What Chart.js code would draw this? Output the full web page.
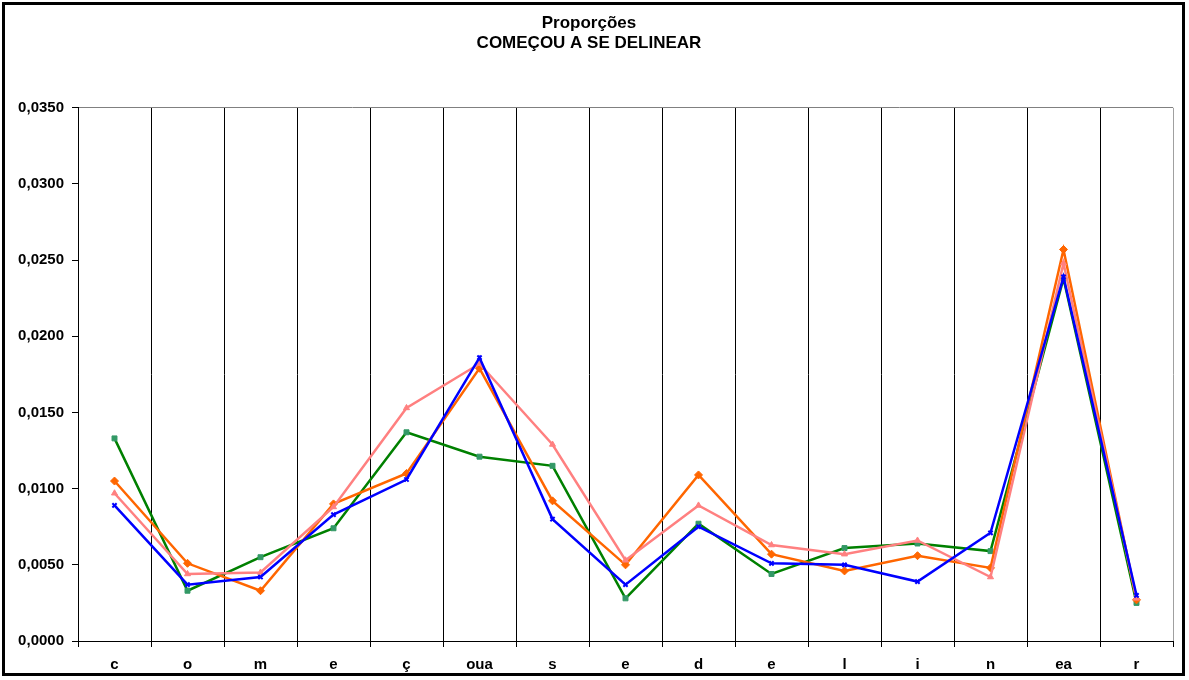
<!DOCTYPE html>
<html>
<head>
<meta charset="utf-8">
<script src="https://cdn.jsdelivr.net/npm/chart.js@4.4.1/dist/chart.umd.min.js"></script>
<style>
  html, body { margin: 0; padding: 0; background: #fff; }
  #frame {
    position: absolute; left: 2px; top: 2px;
    width: 1183px; height: 674px;
    border: 3px solid #000; box-sizing: border-box;
    background: #fff;
  }
  #frame canvas { display: block; }
</style>
</head>
<body>
<div id="frame"><canvas id="chart" width="1177" height="668"></canvas></div>
<script>
const categorias = ['c', 'o', 'm', 'e', 'ç', 'oua', 's', 'e', 'd', 'e', 'l', 'i', 'n', 'ea', 'r']

// proporções por série
const serieVerde   = [0.0133, 0.0033, 0.0055, 0.0074, 0.0137, 0.0121, 0.0115, 0.0028, 0.0077, 0.0044, 0.0061, 0.0064, 0.0059, 0.0238, 0.0025]
const serieLaranja = [0.0105, 0.0051, 0.0033, 0.0090, 0.0110, 0.0179, 0.0092, 0.0050, 0.0109, 0.0057, 0.0046, 0.0056, 0.0048, 0.0257, 0.0027]
const serieRosa    = [0.0097, 0.0044, 0.0045, 0.0088, 0.0153, 0.0182, 0.0129, 0.0053, 0.0089, 0.0063, 0.0057, 0.0066, 0.0042, 0.0248, 0.0028]
const serieAzul    = [0.0089, 0.0037, 0.0042, 0.0083, 0.0106, 0.0186, 0.0080, 0.0037, 0.0075, 0.0051, 0.0050, 0.0039, 0.0071, 0.0239, 0.0030]

const Y_MIN = 0, Y_MAX = 0.035, Y_STEP = 0.005

const FONTE = "'Liberation Sans', Arial, sans-serif"

function serie(data, cor, corMarcador, estilo, raio, ordem) {
  return {
    data,
    borderColor: cor,
    backgroundColor: corMarcador,
    pointBorderColor: corMarcador,
    pointBackgroundColor: corMarcador,
    pointStyle: estilo,
    pointRadius: raio,
    pointBorderWidth: estilo === 'crossRot' ? 2 : 1,
    borderWidth: 2.5,
    tension: 0,
    order: ordem,
  }
}

new Chart(document.getElementById('chart'), {
  type: 'line',
  data: {
    labels: categorias,
    datasets: [
      serie(serieVerde,   '#008000', '#339966', 'rect',     3.5, 4),
      serie(serieLaranja, '#FF6600', '#FF6600', 'rectRot',  4,   3),
      serie(serieRosa,    '#FF8080', '#FF8080', 'triangle', 3.5, 2),
      serie(serieAzul,    '#0000FF', '#0000FF', 'crossRot', 3,   1),
    ],
  },
  options: {
    responsive: false,
    animation: false,
    layout: { padding: { top: 0, right: 9, left: 0, bottom: 0 } },
    plugins: {
      legend: { display: false },
      tooltip: { enabled: false },
      title: {
        display: true,
        text: ['Proporções', 'COMEÇOU A SE DELINEAR'],
        color: '#000',
        font: { family: FONTE, size: 17, weight: 'bold', lineHeight: 1.2 },
        padding: { top: 8, bottom: 54 },
      },
    },
    scales: {
      x: {
        offset: true,
        grid: {
          offset: true,
          color: c => c.tick ? '#000' : '#a0a0a0',
          lineWidth: 1,
          tickLength: 6,
          tickColor: '#000',
        },
        border: { color: '#000', width: 1 },
        ticks: {
          color: '#000',
          padding: 9,
          font: { family: FONTE, size: 15, weight: 'bold' },
        },
        afterFit: s => { s.height = 32 },
      },
      y: {
        min: Y_MIN,
        max: Y_MAX,
        grid: {
          color: c => (c.tick && Math.abs(c.tick.value - Y_MAX) < 1e-9) ? '#808080' : 'rgba(0,0,0,0)',
          tickLength: 6,
          tickColor: '#000',
        },
        border: { color: '#000', width: 1 },
        ticks: {
          stepSize: Y_STEP,
          color: '#000',
          padding: 8,
          font: { family: FONTE, size: 15, weight: 'bold' },
          callback: v => v.toFixed(4).replace('.', ','),
        },
        afterFit: s => { s.width = 73 },
      },
    },
  },
})
</script>
</body>
</html>
